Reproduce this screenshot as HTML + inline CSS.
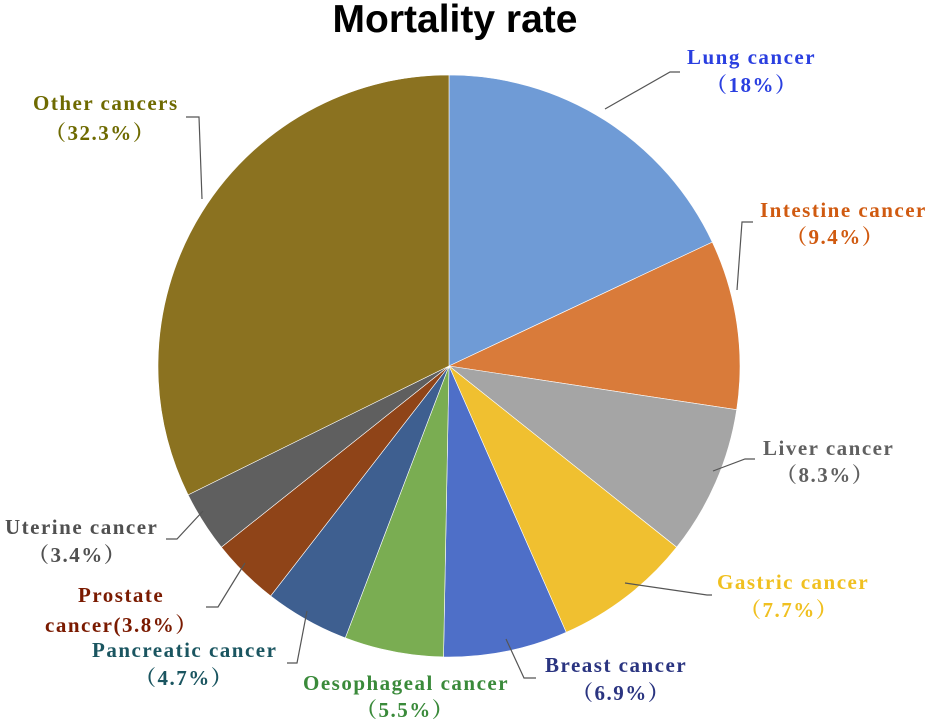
<!DOCTYPE html>
<html><head><meta charset="utf-8"><style>
body{margin:0;background:#fff;}
svg{display:block;}
.lb{font-family:"Liberation Serif","Noto Serif CJK SC",serif;font-weight:bold;font-size:21px;letter-spacing:1.5px;}
</style></head><body>
<svg id="chart" width="931" height="724" viewBox="0 0 931 724" xmlns="http://www.w3.org/2000/svg">
<text x="455" y="32" text-anchor="middle" font-family="Liberation Sans, sans-serif" font-weight="bold" font-size="39">Mortality rate</text>
<g id="slices"></g>
<g id="labels"></g>
</svg>
<script>
const categories = ["Lung cancer","Intestine cancer","Liver cancer","Gastric cancer","Breast cancer","Oesophageal cancer","Pancreatic cancer","Prostate cancer","Uterine cancer","Other cancers"];
const values = [18, 9.4, 8.3, 7.7, 6.9, 5.5, 4.7, 3.8, 3.4, 32.3];
const valueLabels = ["（18%）","（9.4%）","（8.3%）","（7.7%）","（6.9%）","（5.5%）","（4.7%）","cancer(3.8%）","（3.4%）","（32.3%）"];
const colors = ["#6f9bd6","#d97b3a","#a5a5a5","#f0c030","#4e6fc8","#7aad52","#3e5f90","#8f4418","#5f5f5f","#8b7220"];
const labelColors = ["#2a3fe0","#d05a10","#606060","#f0c020","#2a3480","#3a8a3a","#1a5560","#7a1a00","#505050","#6e6a00"];
// layout (not data)
const cx=449, cy=366, R=291;
const layout=[
 {t:[687,64],v:[706,92],line:[[605,109],[670,72],[680,72]]},
 {t:[760,217],v:[786,244],line:[[737,290],[742,222],[753,222]]},
 {t:[763,455],v:[776,482],line:[[713,471],[745,459],[755,459]]},
 {t:[717,589],v:[740,617],line:[[625,583],[707,595],[712,595]]},
 {t:[545,672],v:[572,700],line:[[506,639],[524,678],[536,678]]},
 {t:[303,690],v:[356,717],line:[]},
 {t:[92,657],v:[135,685],line:[[307,611],[297,663],[287,663]]},
 {t:[78,602],v:[45,632],line:[[245,563],[218,607],[206,607]]},
 {t:[5,534],v:[28,562],line:[[203,511],[177,539],[166,539]]},
 {t:[33,110],v:[45,140],line:[[202,199],[199,117],[186,117]]}
];
const NS="http://www.w3.org/2000/svg";
const total=values.reduce((a,b)=>a+b,0);
function pt(f){const a=f*2*Math.PI-Math.PI/2;return [cx+R*Math.cos(a),cy+R*Math.sin(a)];}
const gs=document.getElementById('slices'), gl=document.getElementById('labels');
let acc=0;
values.forEach((v,i)=>{
  const f0=acc/total, f1=(acc+v)/total; acc+=v;
  const p0=pt(f0), p1=pt(f1), large=(f1-f0)>0.5?1:0;
  const p=document.createElementNS(NS,'path');
  p.setAttribute('d',`M${cx},${cy}L${p0[0]},${p0[1]}A${R},${R} 0 ${large} 1 ${p1[0]},${p1[1]}Z`);
  p.setAttribute('fill',colors[i]);
  p.setAttribute('stroke','#ffffff');p.setAttribute('stroke-width','0.6');
  
  
  gs.appendChild(p);
  const L=layout[i];
  if(L.line.length){
    const pl=document.createElementNS(NS,'polyline');
    pl.setAttribute('points',L.line.map(q=>q.join(',')).join(' '));
    pl.setAttribute('fill','none');pl.setAttribute('stroke','#555');pl.setAttribute('stroke-width','1.2');
    
    
    gl.appendChild(pl);
  }
  const t=document.createElementNS(NS,'text');
  t.setAttribute('x',L.t[0]);t.setAttribute('y',L.t[1]);t.setAttribute('class','lb');t.setAttribute('fill',labelColors[i]);
  t.textContent = i===7 ? "Prostate" : categories[i];
  
  
  gl.appendChild(t);
  const t2=document.createElementNS(NS,'text');
  t2.setAttribute('x',L.v[0]);t2.setAttribute('y',L.v[1]);t2.setAttribute('class','lb');t2.setAttribute('fill',labelColors[i]);
  t2.textContent=valueLabels[i];
  
  
  gl.appendChild(t2);
});
</script>
</body></html>
